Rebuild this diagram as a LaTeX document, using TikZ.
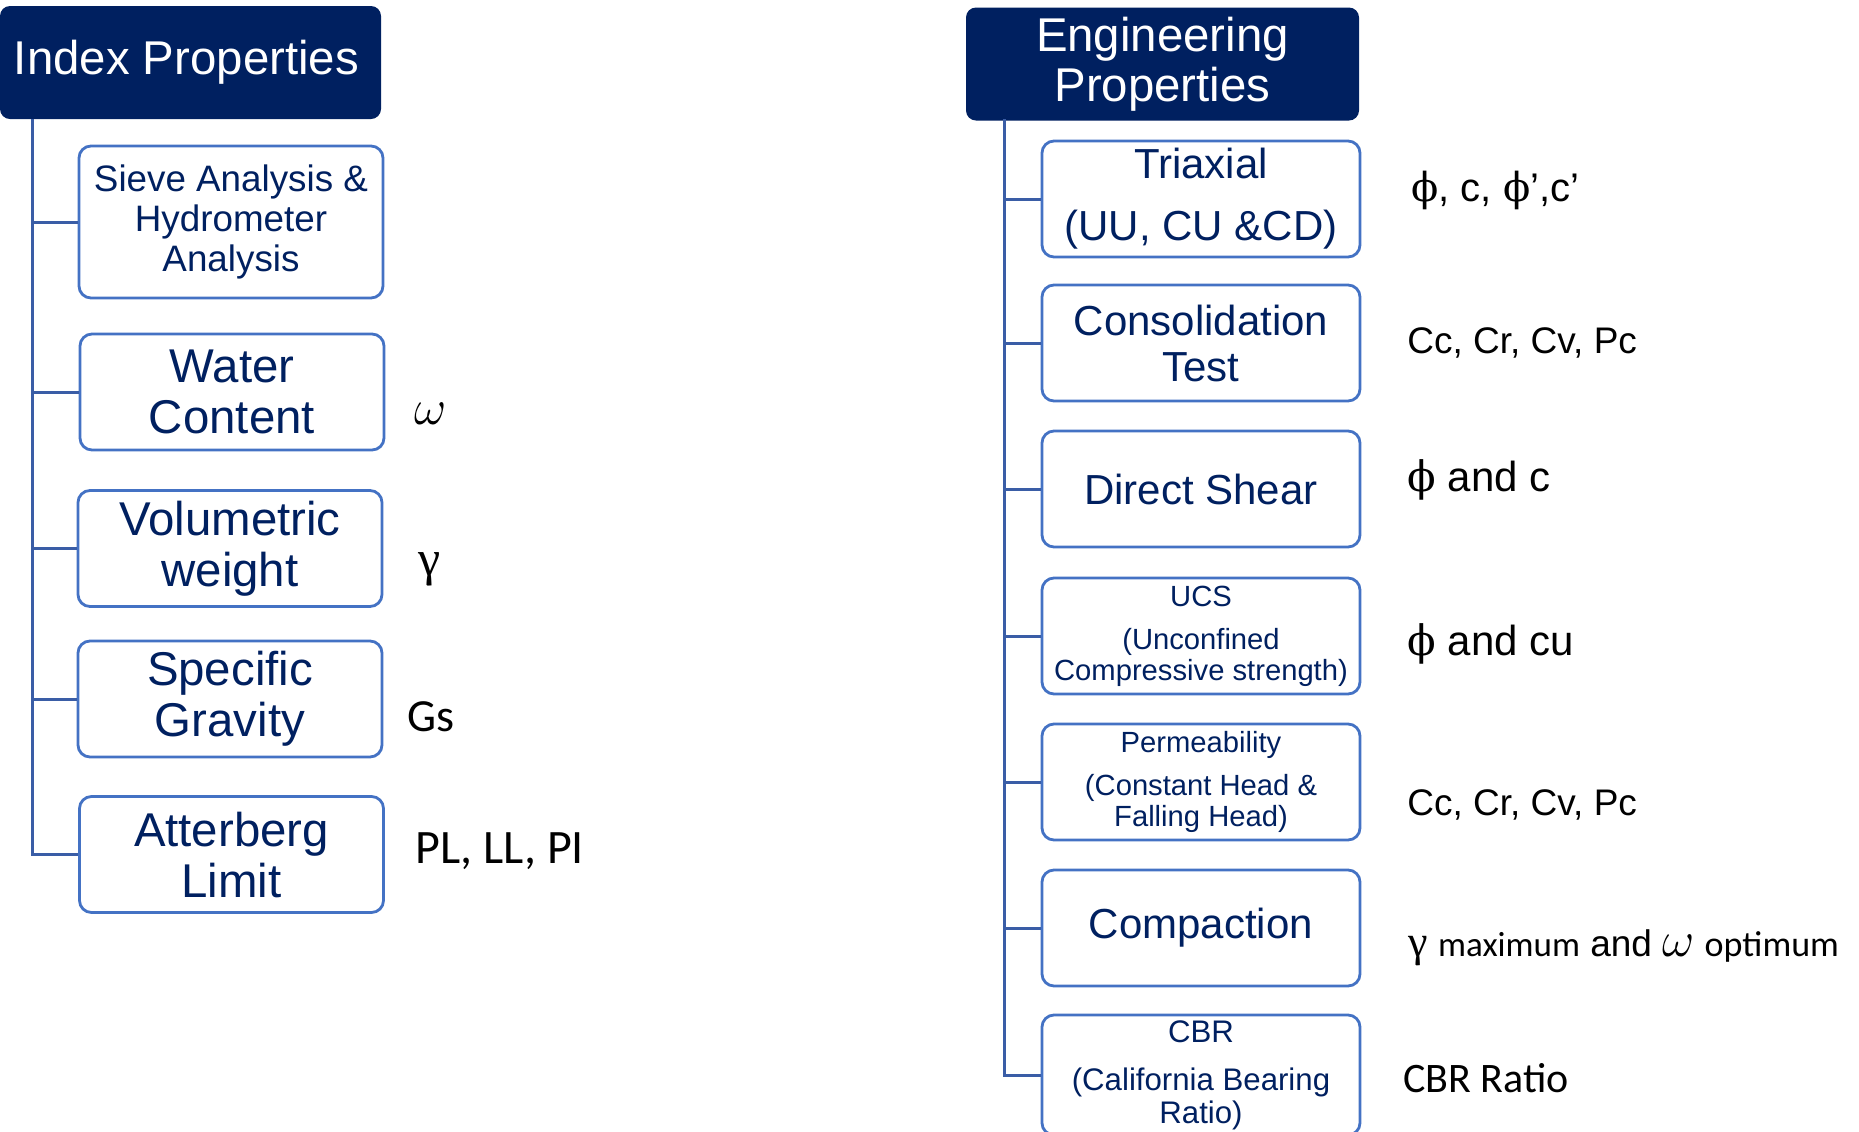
\documentclass[tikz,border=0pt]{standalone}
\usepackage{fontspec}
\setmainfont{Liberation Sans}
\newfontfamily\calfont{Carlito}
\newfontfamily\phifont{DejaVu Serif}
\newfontfamily\serffont{Liberation Serif}
\definecolor{navy}{HTML}{002060}
\definecolor{boxblue}{HTML}{4472C4}
\definecolor{linecol}{HTML}{3A5DA6}
\newcommand\setfs[2]{\fontsize{#1}{#2}\selectfont}
\begin{document}
\begin{tikzpicture}[x=0.5pt,y=-0.5pt,
  conn/.style={draw=linecol, line width=1.5pt},
  hdr/.style={fill=navy, text=white, rounded corners=5pt, align=center, inner sep=0pt, font=\setfs{23.7pt}{25pt}},
  lbox/.style={draw=boxblue, line width=1.4pt, fill=white, rounded corners=6pt, align=center, inner sep=0pt, text=navy, minimum width=152pt, minimum height=58pt},
  rbox/.style={lbox, minimum width=159pt},
  lab/.style={anchor=west, inner sep=0pt, text=black}
]
\clip (0,0) rectangle (1859,1131);
\fill[white] (0,0) rectangle (1859,1131);

% ---------- Index properties ----------
\node[hdr, minimum width=190.5pt, minimum height=56.5pt] (ip) at (190.5,62.5) {\hspace*{-4pt}Index Properties};
\coordinate (ltop) at (32,119);

\node[lbox, minimum height=76pt, font=\setfs{18.4pt}{20pt}] (sieve) at (231,222) {Sieve Analysis \&\\Hydrometer\\Analysis};
\node[lbox, font=\setfs{23.7pt}{25.5pt}] (water) at (232,392) {Water\\Content};
\node[lbox, font=\setfs{23.7pt}{25.5pt}] (vol) at (230,548.5) {Volumetric\\weight};
\node[lbox, font=\setfs{23.7pt}{25.5pt}] (spec) at (230,699) {Specific\\Gravity};
\node[lbox, font=\setfs{23.7pt}{25.5pt}] (atter) at (231.5,854.5) {Atterberg\\Limit};

\draw[conn] (ltop) |- (atter.west);
\foreach \n in {sieve,water,vol,spec} \draw[conn] (\n.west) -- (\n.west -| ltop);

\node[lab, font=\fontsize{27pt}{29pt}\selectfont] (lw) at (414,414) {$\omega$};
\node[lab, font=\serffont\fontsize{25pt}{27pt}\selectfont] (lg) at (418,569) {γ};
\node[lab, font=\calfont\fontsize{23pt}{25pt}\selectfont] (lgs) at (407,717) {Gs};
\node[lab, font=\calfont\fontsize{24pt}{26pt}\selectfont] (lpl) at (415,851) {PL, LL, PI};

% ---------- Engineering properties ----------
\node[hdr, minimum width=196.5pt, minimum height=56.5pt] (ep) at (1162.5,64) {Engineering\\Properties};
\coordinate (rtop) at (1004,119);

\node[rbox, font=\setfs{21pt}{23pt}] (tri) at (1201,199) {Triaxial\\[8pt](UU, CU \&CD)};
\node[rbox, font=\setfs{21pt}{23pt}] (cons) at (1201,343) {Consolidation\\Test};
\node[rbox, font=\setfs{21pt}{23pt}] (ds) at (1201,489) {Direct Shear};
\node[rbox, font=\setfs{14.6pt}{15.5pt}] (ucs) at (1201,636) {UCS\\[6pt](Unconfined\\Compressive strength)};
\node[rbox, font=\setfs{14.6pt}{15.5pt}] (perm) at (1201,782) {Permeability\\[6pt](Constant Head \&\\Falling Head)};
\node[rbox, font=\setfs{21pt}{23pt}] (comp) at (1201,928) {Compaction};
\node[rbox, minimum height=60pt, font=\setfs{15.6pt}{16.5pt}] (cbr) at (1201,1075) {CBR\\[7.5pt](California Bearing\\Ratio)};

\draw[conn] (rtop) |- (cbr.west);
\foreach \n in {tri,cons,ds,ucs,perm,comp} \draw[conn] (\n.west) -- (\n.west -| rtop);

\node[lab, font=\setfs{20pt}{22pt}] (rtri) at (1411,190) {{\phifont ϕ}, c, {\phifont ϕ}’,c’};
\node[lab, font=\setfs{18.5pt}{20pt}] (rcons) at (1407,343) {Cc, Cr, Cv, Pc};
\node[lab, font=\setfs{21pt}{23pt}] (rds) at (1407,480) {{\phifont ϕ} and c};
\node[lab, font=\setfs{21pt}{23pt}] (rucs) at (1407,644) {{\phifont ϕ} and cu};
\node[lab, font=\setfs{18.5pt}{20pt}] (rperm) at (1407,805) {Cc, Cr, Cv, Pc};
\node[lab, font=\setfs{18.5pt}{20pt}] (rcomp) at (1408,948) {{\serffont\fontsize{22pt}{24pt}\selectfont γ} {\calfont\fontsize{17.5pt}{19pt}\selectfont maximum} and {\fontsize{24pt}{26pt}\selectfont$\omega$} {\calfont\fontsize{18pt}{19pt}\selectfont optimum}};
\node[lab, font=\calfont\fontsize{21pt}{23pt}\selectfont] (rcbr) at (1403,1078) {CBR Ratio};
\end{tikzpicture}
\end{document}
